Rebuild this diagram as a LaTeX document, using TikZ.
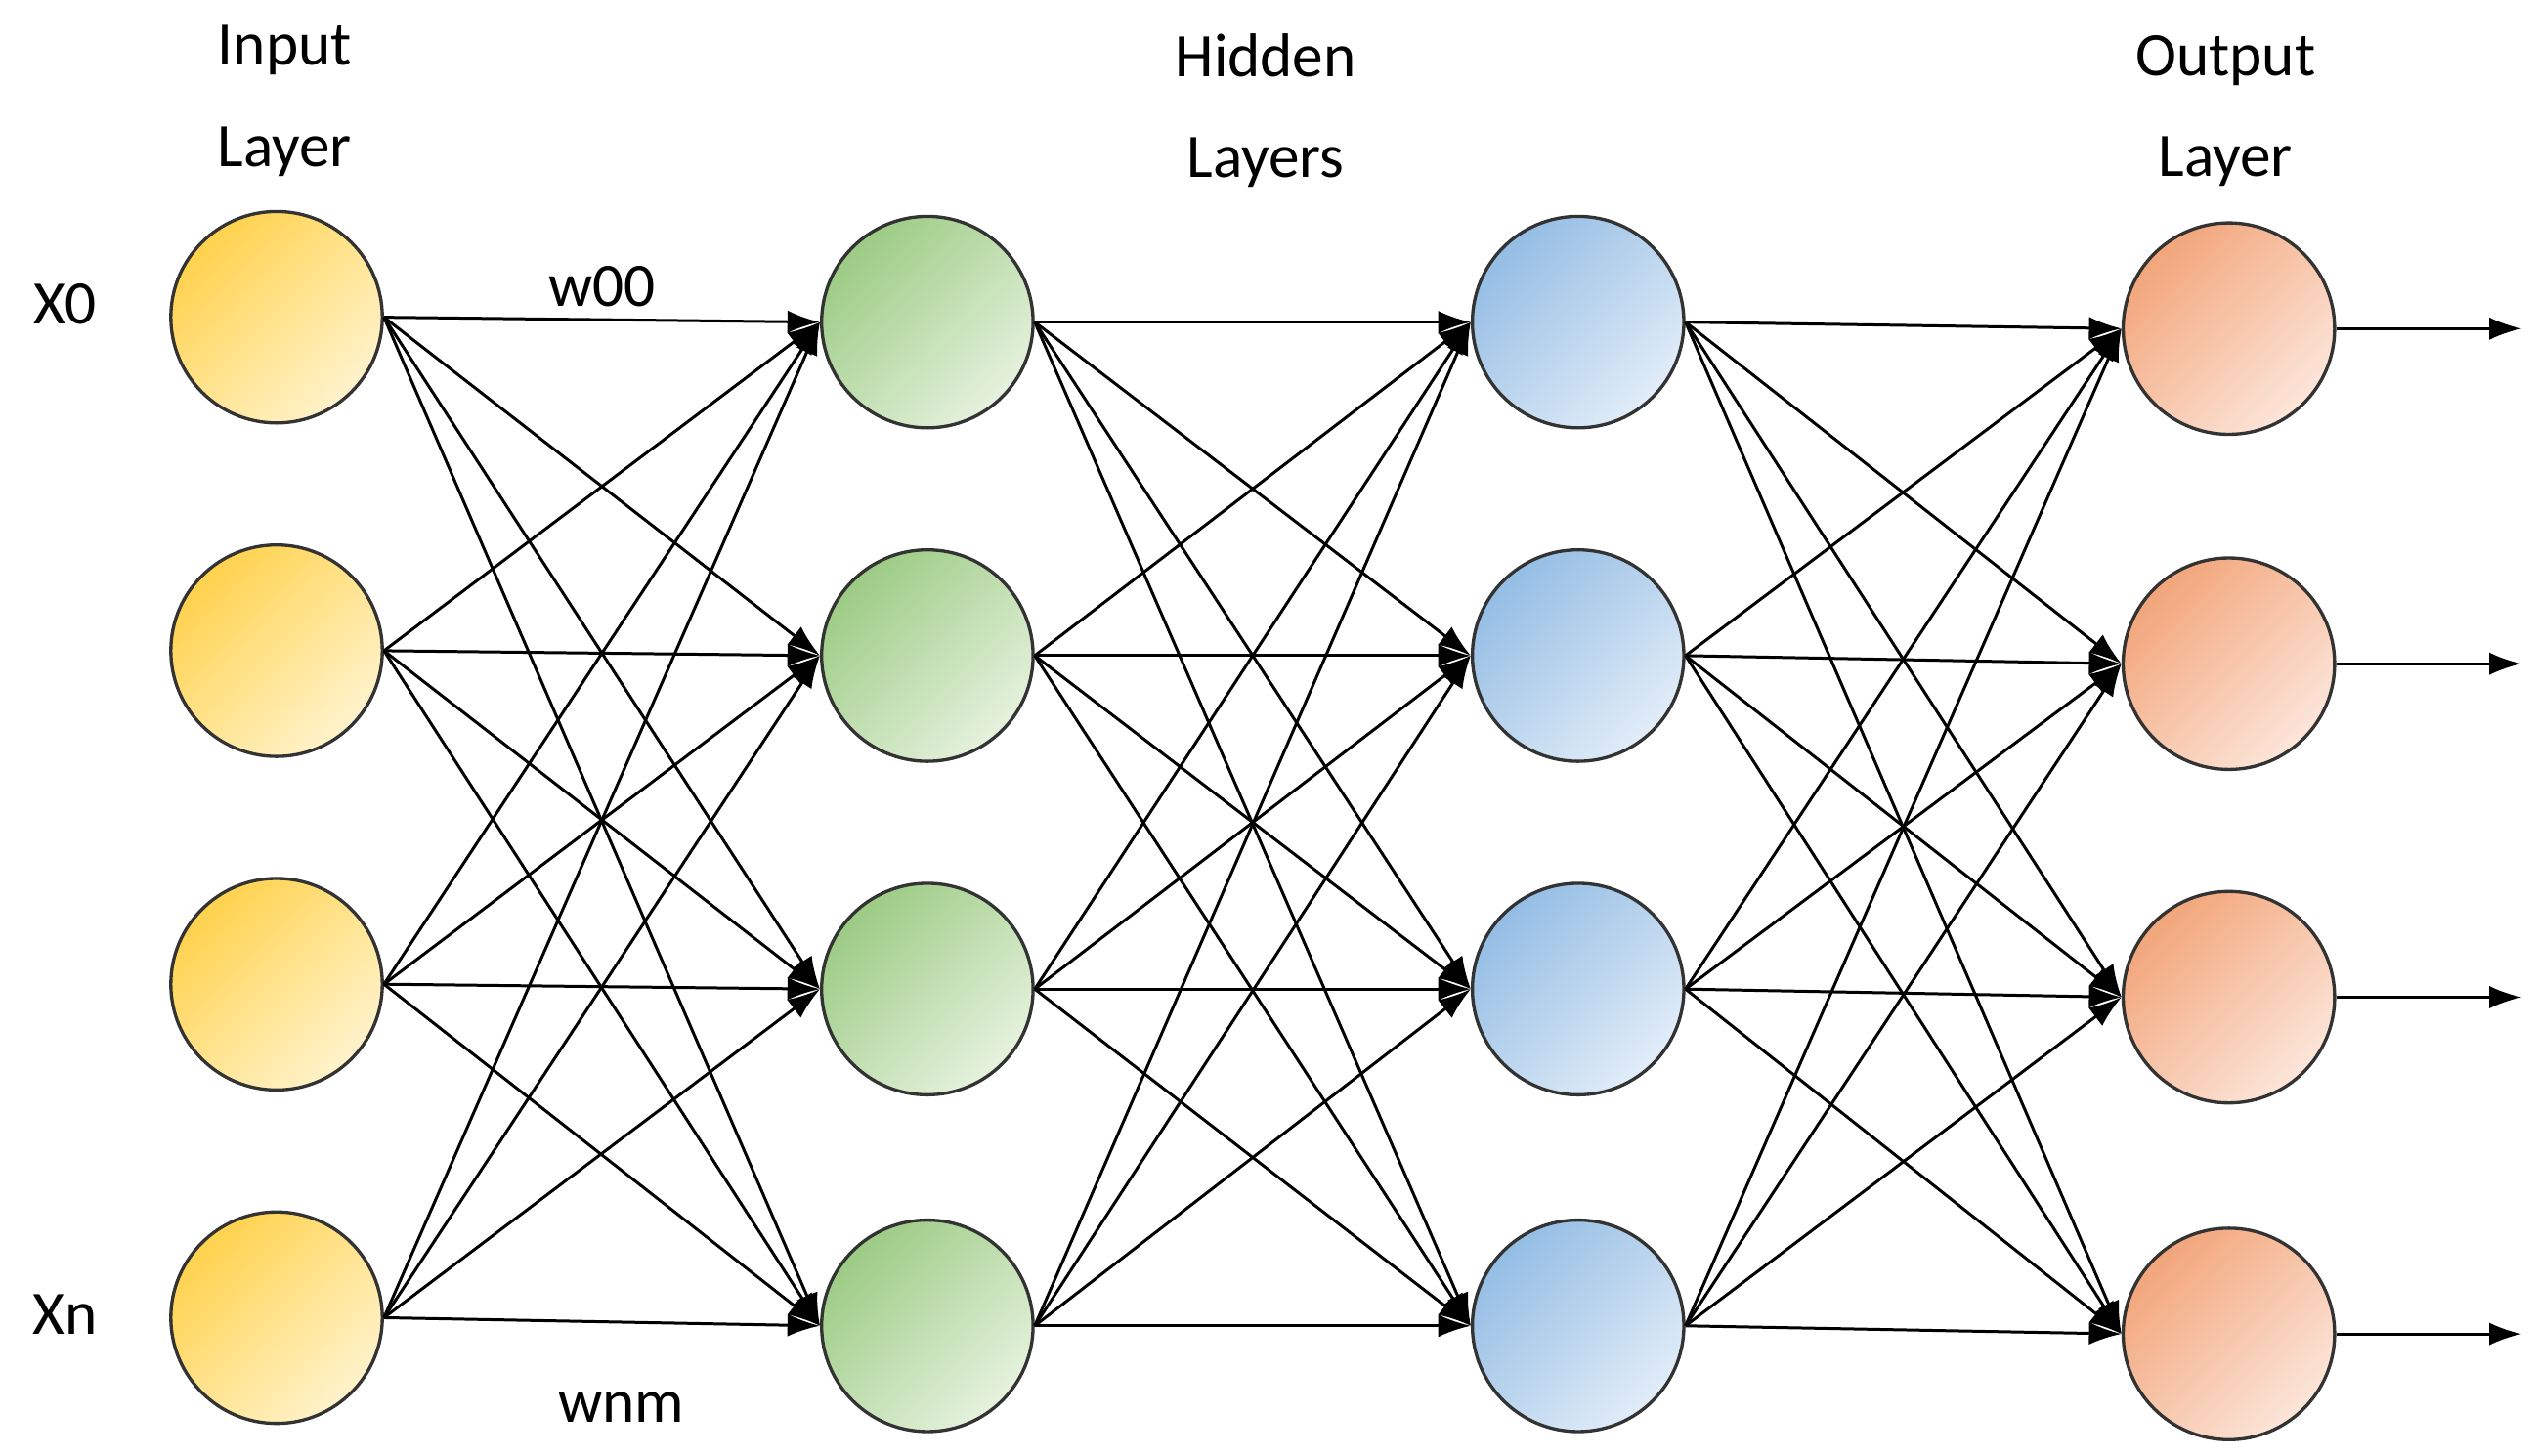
\documentclass[tikz,border=0pt]{standalone}
\usepackage{fontspec}
\setmainfont{Carlito}
\usetikzlibrary{arrows.meta}
\definecolor{yd}{HTML}{FFD24D}\definecolor{yl}{HTML}{FFF3CC}
\definecolor{gd}{HTML}{9CCB84}\definecolor{gl}{HTML}{E6F2DE}
\definecolor{bd}{HTML}{94BDE4}\definecolor{bl}{HTML}{E2EDF8}
\definecolor{od}{HTML}{F2A57A}\definecolor{ol}{HTML}{FCE6DA}
\begin{document}
\begin{tikzpicture}[x=0.5pt,y=-0.5pt,
 neuron/.style={circle,draw=black!80,line width=1pt,minimum size=65pt,inner sep=0pt,shading angle=45},
 conn/.style={line width=0.9pt,-{Latex[length=10pt,width=7pt]}},
 lbl/.style={font=\fontsize{19}{23}\selectfont}]
\useasboundingbox (0,0) rectangle (1560,895);
\foreach \i/\y in {1/195,2/400,3/605,4/810}{
 \node[neuron,top color=yd,bottom color=yl,shading angle=45] (a\i) at (170,\y) {};}
\foreach \i/\y in {1/198,2/403,3/608,4/815}{
 \node[neuron,top color=gd,bottom color=gl,shading angle=45] (b\i) at (570,\y) {};
 \node[neuron,top color=bd,bottom color=bl,shading angle=45] (c\i) at (970,\y) {};}
\foreach \i/\y in {1/202,2/408,3/613,4/820}{
 \node[neuron,top color=od,bottom color=ol,shading angle=45] (d\i) at (1370,\y) {};
 \coordinate (o\i) at (1550,\y);
 \draw[conn] (d\i.east) -- (o\i);}
\foreach \s/\t in {a/b,b/c,c/d}{
 \foreach \i in {1,...,4}{\foreach \j in {1,...,4}{
  \draw[conn] (\s\i.east) -- (\t\j.west);}}}
\node[lbl,align=center] (t1) at (175,62) {Input\\[8pt]Layer};
\node[lbl,align=center] (t2) at (778,68) {Hidden\\[8pt]Layers};
\node[lbl,align=center] (t3) at (1368,68) {Output\\[8pt]Layer};
\node[lbl] (x0) at (40,187) {X0};
\node[lbl] (xn) at (40,808) {Xn};
\node[lbl] (w0) at (370,176) {w00};
\node[lbl] (wn) at (382,865) {wnm};
\end{tikzpicture}
\end{document}
